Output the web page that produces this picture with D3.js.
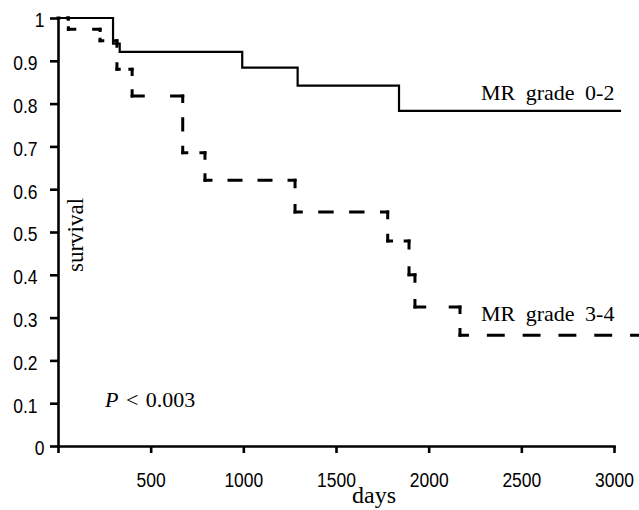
<!DOCTYPE html>
<html>
<head>
<meta charset="utf-8">
<script src="https://cdn.jsdelivr.net/npm/d3@7"></script>
<style>
  body { margin: 0; background: #fff; }
</style>
</head>
<body>
<script>
// Curva de supervivencia, MR grado 0-2 (línea continua)
const grade02Days = [0, 297, 333, 994, 1293, 1840, 3038];
const grade02Surv = [1, 0.94, 0.921, 0.884, 0.842, 0.783, 0.783];

// MR grado 3-4 (línea discontinua)
const grade34Days = [0, 56, 227, 318, 400, 673, 793, 1279, 1779, 1894, 1926, 2169, 3135];
const grade34Surv = [1, 0.974, 0.947, 0.88, 0.818, 0.685, 0.621, 0.547, 0.479, 0.40, 0.325, 0.259, 0.259];

const xTicks = [0, 500, 1000, 1500, 2000, 2500, 3000];
const yTicks = [0, 0.1, 0.2, 0.3, 0.4, 0.5, 0.6, 0.7, 0.8, 0.9, 1];

const width = 639;
const height = 510;

const svg = d3
  .select("body")
  .append("svg")
  .attr("width", width)
  .attr("height", height);

const x = d3.scaleLinear().domain([0, 3000]).range([58, 614]);
const y = d3.scaleLinear().domain([0, 1]).range([446, 18]);

// Ejes
const yAxis = svg
  .append("g")
  .attr("transform", "translate(58,0)")
  .call(
    d3.axisLeft(y)
      .tickValues(yTicks)
      .tickSize(8)
      .tickSizeOuter(0)
      .tickPadding(12.5)
      .tickFormat((d) => String(+d.toFixed(1)))
  );

const xAxis = svg
  .append("g")
  .attr("transform", "translate(0,446)")
  .call(
    d3.axisBottom(x)
      .tickValues(xTicks)
      .tickSize(7)
      .tickSizeOuter(0)
      .tickPadding(17)
      .tickFormat((d) => (d === 0 ? "" : d))
  );

[xAxis, yAxis].forEach((ax) => {
  ax.select(".domain").attr("stroke", "#000").attr("stroke-width", 2.6).attr("stroke-linecap", "square");
  ax.selectAll(".tick line").attr("stroke", "#000").attr("stroke-width", 2.6);
  // las cifras del original están algo estiradas en vertical
  ax.selectAll("text")
    .attr("font-family", "'Liberation Sans', Arial, sans-serif")
    .attr("font-size", "17.5px")
    .attr("transform", "scale(1,1.12)")
    .attr("fill", "#000");
});
yAxis.selectAll("text").attr("dy", "0.45em");
// los enteros 0 y 1 quedan algo más a la derecha
yAxis.selectAll(".tick text").filter((d) => d === 0 || d === 1).attr("x", -13.5);

// Línea continua
const line = d3
  .line()
  .x((d) => x(d[0]))
  .y((d) => y(d[1]))
  .curve(d3.curveStepAfter);

svg
  .append("path")
  .datum(d3.zip(grade02Days, grade02Surv))
  .attr("d", line)
  .attr("fill", "none")
  .attr("stroke", "#000")
  .attr("stroke-width", 2.2);

// Línea discontinua: cada tramo lleva su propio patrón (medio trazo en cada extremo)
const segs = [];
for (let i = 0; i < grade34Days.length - 1; i++) {
  const x0 = x(grade34Days[i]), x1 = x(grade34Days[i + 1]);
  const y0 = y(grade34Surv[i]), y1 = y(grade34Surv[i + 1]);
  segs.push([x0, y0, x1, y0]);
  if (y1 !== y0) segs.push([x1, y0, x1, y1]);
}

svg
  .selectAll(".seg")
  .data(segs)
  .enter()
  .append("line")
  .attr("class", "seg")
  .attr("x1", (d) => d[0])
  .attr("y1", (d) => d[1])
  .attr("x2", (d) => d[2])
  .attr("y2", (d) => d[3])
  .attr("stroke", "#000")
  .attr("stroke-width", 3)
  .attr("stroke-linecap", "square")
  .each(function (d) {
    const len = Math.hypot(d[2] - d[0], d[3] - d[1]);
    if (len < 10) return;
    const n = Math.max(1, Math.round(len / 34));
    const p = len / n;
    const dash = p / 2 - 3; // el remate cuadrado añade 1.5 px por lado
    d3.select(this)
      .attr("stroke-dasharray", `${dash},${p - dash}`)
      .attr("stroke-dashoffset", dash / 2);
  });

// Textos
const serif = "'Liberation Serif', 'Times New Roman', serif";

svg.append("text")
  .attr("x", 481)
  .attr("y", 100)
  .attr("font-family", serif)
  .attr("font-size", "22px")
  .attr("word-spacing", "5px")
  .text("MR grade 0-2");

svg.append("text")
  .attr("x", 481)
  .attr("y", 321)
  .attr("font-family", serif)
  .attr("font-size", "22px")
  .attr("word-spacing", "5px")
  .text("MR grade 3-4");

svg.append("text")
  .attr("transform", "translate(83,235) rotate(-90)")
  .attr("text-anchor", "middle")
  .attr("font-family", serif)
  .attr("font-size", "23px")
  .text("survival");

const pText = svg.append("text")
  .attr("x", 105)
  .attr("y", 406.5)
  .attr("font-family", serif)
  .attr("font-size", "22px")
  .attr("word-spacing", "2px");
pText.append("tspan").attr("font-style", "italic").text("P");
pText.append("tspan").text(" < 0.003");

svg.append("text")
  .attr("x", 374)
  .attr("y", 503)
  .attr("text-anchor", "middle")
  .attr("font-family", serif)
  .attr("font-size", "24px")
  .text("days");
</script>
</body>
</html>
